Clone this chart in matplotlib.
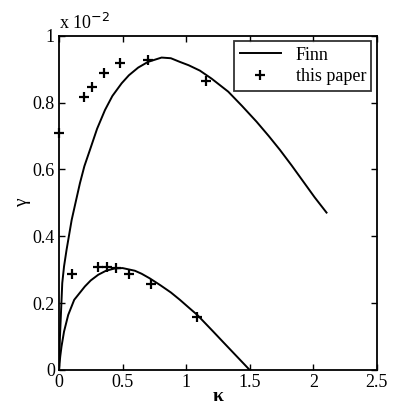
import matplotlib.pyplot as plt

# Finn curves, values in units of 1e-2
finn_hi_k = [0.0, 0.008, 0.026, 0.04, 0.06, 0.1, 0.13, 0.165, 0.2, 0.244,
             0.3, 0.362, 0.42, 0.493, 0.55, 0.623, 0.7, 0.807, 0.88, 0.951,
             1.02, 1.108, 1.2, 1.331, 1.44, 1.554, 1.65, 1.737, 1.83, 1.921,
             2.01, 2.104]
finn_hi_g = [0.0, 0.1, 0.26, 0.31, 0.36, 0.449, 0.50, 0.559, 0.61, 0.659,
             0.722, 0.778, 0.82, 0.858, 0.882, 0.905, 0.922, 0.935, 0.933, 0.922,
             0.912, 0.896, 0.872, 0.833, 0.79, 0.743, 0.70, 0.659, 0.612, 0.564,
             0.517, 0.471]
finn_lo_k = [0.0, 0.01, 0.02, 0.04, 0.073, 0.12, 0.204, 0.25, 0.309, 0.37,
             0.44, 0.5, 0.597, 0.65, 0.715, 0.8, 0.88, 0.951, 1.02, 1.087,
             1.15, 1.213, 1.28, 1.35, 1.42, 1.5]
finn_lo_g = [0.0, 0.04, 0.07, 0.115, 0.165, 0.21, 0.25, 0.268, 0.285, 0.297,
             0.304, 0.305, 0.297, 0.288, 0.274, 0.253, 0.232, 0.21, 0.187, 0.165,
             0.14, 0.115, 0.088, 0.06, 0.032, 0.0]

# this paper
paper_k = [0.0, 0.197, 0.257, 0.356, 0.48, 0.697, 1.156,
           0.1, 0.309, 0.375, 0.446, 0.55, 0.723, 1.082]
paper_g = [0.71, 0.818, 0.848, 0.888, 0.918, 0.928, 0.866,
           0.287, 0.307, 0.307, 0.304, 0.287, 0.257, 0.16]

plt.rcParams["font.family"] = ["Liberation Serif", "DejaVu Serif"]

fig = plt.figure(figsize=(3.93, 4.12), dpi=100)
ax = fig.add_axes([0.150, 0.102, 0.809, 0.811])

ax.plot(finn_hi_k, finn_hi_g, color="black", lw=1.4, label="Finn")
ax.plot(finn_lo_k, finn_lo_g, color="black", lw=1.4)
ax.plot(paper_k, paper_g, "+", color="black", ms=7, mew=1.6,
        label="this paper", clip_on=False)

ax.set_xlim(0, 2.5)
ax.set_ylim(0, 1)
ax.set_xticks([0, 0.5, 1, 1.5, 2, 2.5])
ax.set_xticklabels(["0", "0.5", "1", "1.5", "2", "2.5"])
ax.set_yticks([0, 0.2, 0.4, 0.6, 0.8, 1])
ax.set_yticklabels(["0", "0.2", "0.4", "0.6", "0.8", "1"])
ax.tick_params(direction="in", length=4, width=1, top=True, right=True,
               labelsize=13, pad=3)
for s in ax.spines.values():
    s.set_linewidth(1.3)

ax.set_xlabel("κ", fontsize=14, fontweight="bold", labelpad=-2)
ax.set_ylabel("γ", fontsize=14, labelpad=1)
ax.text(0.0, 1.01, "x 10$^{-2}$", transform=ax.transAxes, fontsize=13,
        ha="left", va="bottom")

leg = ax.legend(loc="upper right", fontsize=13, frameon=True, fancybox=False,
                edgecolor="black", borderaxespad=0.3, handlelength=2.3,
                borderpad=0.3, labelspacing=0.25, handletextpad=0.8)
leg.get_frame().set_linewidth(1.3)

fig.savefig("out.png", dpi=100)
